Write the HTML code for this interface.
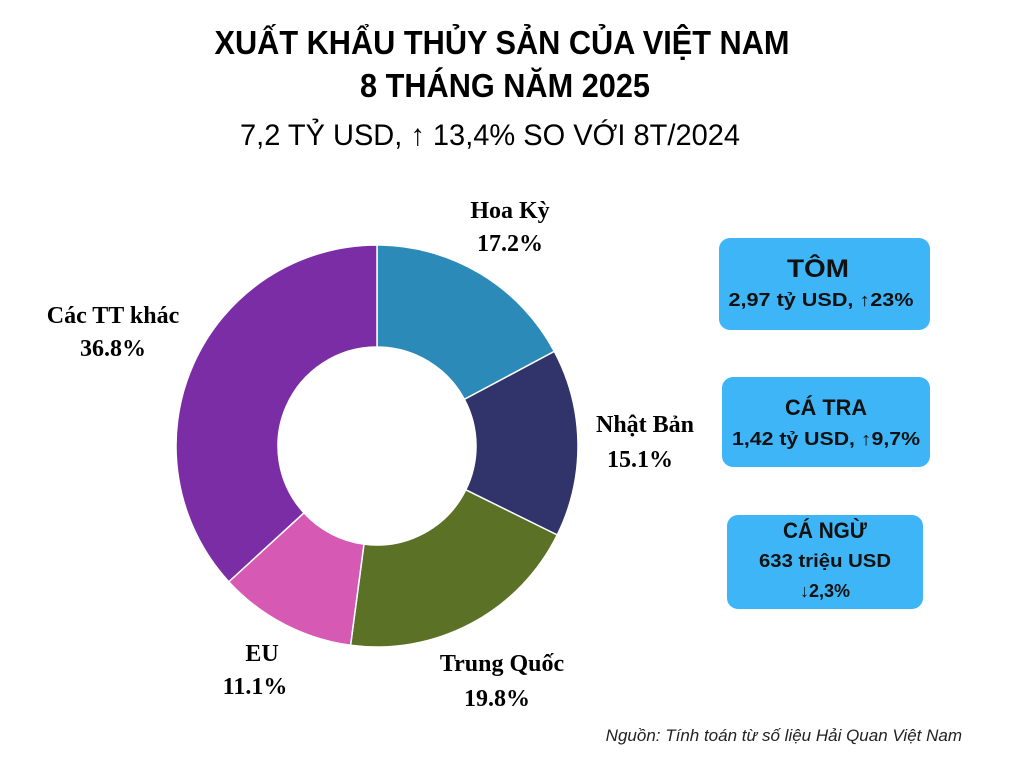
<!DOCTYPE html>
<html><head><meta charset="utf-8"><style>
html,body{margin:0;padding:0;background:#fff;width:1024px;height:768px;overflow:hidden}
svg{display:block}
</style></head><body>
<svg width="1024" height="768" viewBox="0 0 1024 768">
<g font-family="'Liberation Sans Narrow','Liberation Sans',sans-serif" fill="#000">
<text x="502" y="54" text-anchor="middle" font-size="33" font-weight="bold" textLength="575" lengthAdjust="spacingAndGlyphs">XUẤT KHẨU THỦY SẢN CỦA VIỆT NAM</text>
<text x="505" y="97" text-anchor="middle" font-size="33" font-weight="bold" textLength="290" lengthAdjust="spacingAndGlyphs">8 THÁNG NĂM 2025</text>
<text x="490" y="145" text-anchor="middle" font-size="30" textLength="500" lengthAdjust="spacingAndGlyphs">7,2 TỶ USD, ↑ 13,4% SO VỚI 8T/2024</text>
</g>
<g id="donut"></g>
<g font-family="'Liberation Serif',serif" font-weight="bold" font-size="24" text-anchor="middle" fill="#000">
<text x="510" y="218">Hoa Kỳ</text>
<text x="510" y="251">17.2%</text>
<text x="645" y="432">Nhật Bản</text>
<text x="640" y="467">15.1%</text>
<text x="502" y="671">Trung Quốc</text>
<text x="497" y="706">19.8%</text>
<text x="262" y="661">EU</text>
<text x="255" y="694">11.1%</text>
<text x="113" y="323">Các TT khác</text>
<text x="113" y="356">36.8%</text>
</g>
<g font-family="'Liberation Sans',sans-serif" font-weight="bold" text-anchor="middle" fill="#111">
<rect x="719" y="238" width="211" height="92" rx="11" fill="#3eb5f6"/>
<text x="818" y="277" font-size="25" textLength="62" lengthAdjust="spacingAndGlyphs">TÔM</text>
<text x="821" y="306" font-size="18" textLength="185" lengthAdjust="spacingAndGlyphs">2,97 tỷ USD, ↑23%</text>
<rect x="722" y="377" width="208" height="90" rx="11" fill="#3eb5f6"/>
<text x="826" y="415" font-size="22" textLength="82" lengthAdjust="spacingAndGlyphs">CÁ TRA</text>
<text x="826" y="445" font-size="18" textLength="188" lengthAdjust="spacingAndGlyphs">1,42 tỷ USD, ↑9,7%</text>
<rect x="727" y="515" width="196" height="94" rx="11" fill="#3eb5f6"/>
<text x="825" y="538" font-size="22" textLength="84" lengthAdjust="spacingAndGlyphs">CÁ NGỪ</text>
<text x="825" y="567" font-size="18" textLength="132" lengthAdjust="spacingAndGlyphs">633 triệu USD</text>
<text x="825" y="597" font-size="18">↓2,3%</text>
</g>
<text x="962" y="741" text-anchor="end" font-family="'Liberation Sans',sans-serif" font-style="italic" font-size="17" fill="#222">Nguồn: Tính toán từ số liệu Hải Quan Việt Nam</text>
</svg>
<script>
const categories = ["Hoa Kỳ","Nhật Bản","Trung Quốc","EU","Các TT khác"];
const shares = [17.2,15.1,19.8,11.1,36.8];
const colors = ["#2b8ab8","#30346b","#5b7126","#d65ab4","#7a2da5"];
const cx=377, cy=446, R=201, r=99;
const g=document.getElementById('donut');
const total=shares.reduce((a,b)=>a+b,0);
let acc=0;
function pt(a,rad){return [cx+rad*Math.sin(a), cy-rad*Math.cos(a)];}
shares.forEach((v,i)=>{
  const a0=acc/total*2*Math.PI; acc+=v; const a1=acc/total*2*Math.PI;
  const large=(a1-a0)>Math.PI?1:0;
  const [x0,y0]=pt(a0,R),[x1,y1]=pt(a1,R),[x2,y2]=pt(a1,r),[x3,y3]=pt(a0,r);
  const p=document.createElementNS('http://www.w3.org/2000/svg','path');
  p.setAttribute('d',`M${x0},${y0}A${R},${R} 0 ${large} 1 ${x1},${y1}L${x2},${y2}A${r},${r} 0 ${large} 0 ${x3},${y3}Z`);
  p.setAttribute('fill',colors[i]);
  p.setAttribute('stroke','#fff');
  p.setAttribute('stroke-width','1.5');
  
  
  g.appendChild(p);
});
</script>
</body></html>
